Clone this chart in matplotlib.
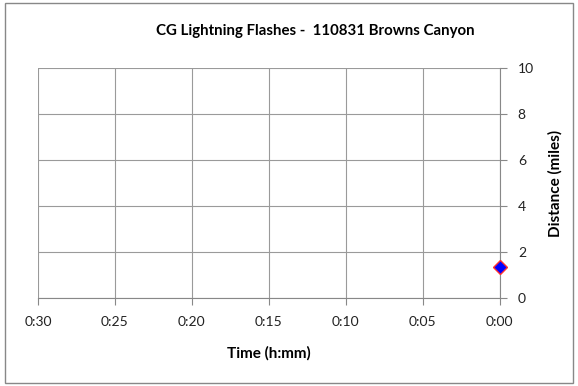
import numpy as np
import matplotlib.pyplot as plt
from matplotlib.patches import Rectangle

# Donnees
temps_min = [0.0]          # minutes avant 0:00
distance = [1.35]          # miles
xticks = [30, 25, 20, 15, 10, 5, 0]
xlabels = ["0:30", "0:25", "0:20", "0:15", "0:10", "0:05", "0:00"]
yticks = [0, 2, 4, 6, 8, 10]

plt.rcParams['font.family'] = ['Lato', 'DejaVu Sans']

fig = plt.figure(figsize=(5.78, 3.86), dpi=100)
fig.patches.append(Rectangle((0.009, 0.008), 0.982, 0.984, transform=fig.transFigure,
                             fill=False, edgecolor="#888888", linewidth=1))
ax = fig.add_axes([0.0657, 0.228, 0.799, 0.596])

ax.plot(temps_min, distance, "D", color="#0000ff", markeredgecolor="#ff3030",
        markersize=7, markeredgewidth=1, clip_on=False, zorder=5)

ax.set_xlim(30, 0)
ax.set_ylim(0, 10)
ax.set_xticks(xticks)
ax.set_xticklabels(xlabels)
ax.set_yticks(yticks)
ax.yaxis.tick_right()
ax.yaxis.set_label_position("right")
ax.grid(True, color="#9a9a9a", linewidth=0.8)
for s in ["top", "left"]:
    ax.spines[s].set_visible(False)
for s in ["bottom", "right"]:
    ax.spines[s].set_color("#888888")
ax.tick_params(colors="#888888", labelcolor="#222222", labelsize=10, length=5, pad=8)

ax.set_title("CG Lightning Flashes -  110831 Browns Canyon", fontsize=10.8,
             fontweight="bold", pad=24, x=0.6)
ax.set_xlabel("Time (h:mm)", fontsize=11, fontweight="bold", labelpad=13)
ax.set_ylabel("Distance (miles)", fontsize=11, fontweight="bold", labelpad=10)

fig.savefig("out.png", dpi=100)
